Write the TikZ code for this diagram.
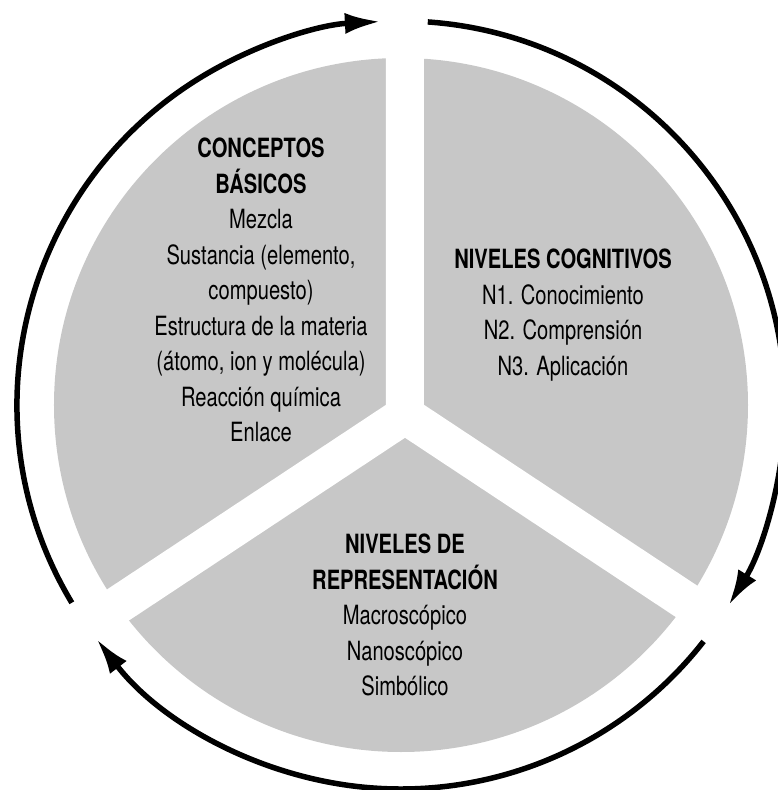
\documentclass[tikz,border=0pt]{standalone}
\usepackage{fontspec}
\setmainfont{TeX Gyre Heros}[FakeStretch=0.76]
\usetikzlibrary{arrows.meta}
\definecolor{diskgray}{RGB}{199,199,199}

\begin{document}
\begin{tikzpicture}[x=1pt,y=1pt,
  cyclearc/.style={line width=5.5pt,-{Latex[length=36pt,width=21pt]}},
  gapline/.style={white,line width=38pt},
  txt/.style={align=center,font=\fontsize{26.5}{35.5}\selectfont}]
\useasboundingbox (-401,-385) rectangle (377,405);
\coordinate (o) at (0,0);
\coordinate (y) at (4,-10);

\fill[diskgray] (o) circle (347);
\draw[gapline] (y)--++(90:365) (y)--++(213.5:365) (y)--++(-33.5:365);

\draw[cyclearc] (211:384) arc[start angle=211,end angle=93,radius=384];
\draw[cyclearc] (86:384) arc[start angle=86,end angle=-31.5,radius=384];
\draw[cyclearc] (-38:384) arc[start angle=-38,end angle=-142.5,radius=384];

\node[txt] (basic) at (-140,115) {\textbf{CONCEPTOS}\\\textbf{BÁSICOS}\\Mezcla\\Sustancia (elemento,\\compuesto)\\Estructura de la materia\\(átomo, ion y molécula)\\Reacción química\\Enlace};
\node[txt] (cogn) at (162,90) {\textbf{NIVELES COGNITIVOS}\\N1. Conocimiento\\N2. Comprensión\\N3. Aplicación};
\node[txt] (repr) at (4,-210) {\textbf{NIVELES DE}\\\textbf{REPRESENTACIÓN}\\Macroscópico\\Nanoscópico\\Simbólico};
\end{tikzpicture}
\end{document}
